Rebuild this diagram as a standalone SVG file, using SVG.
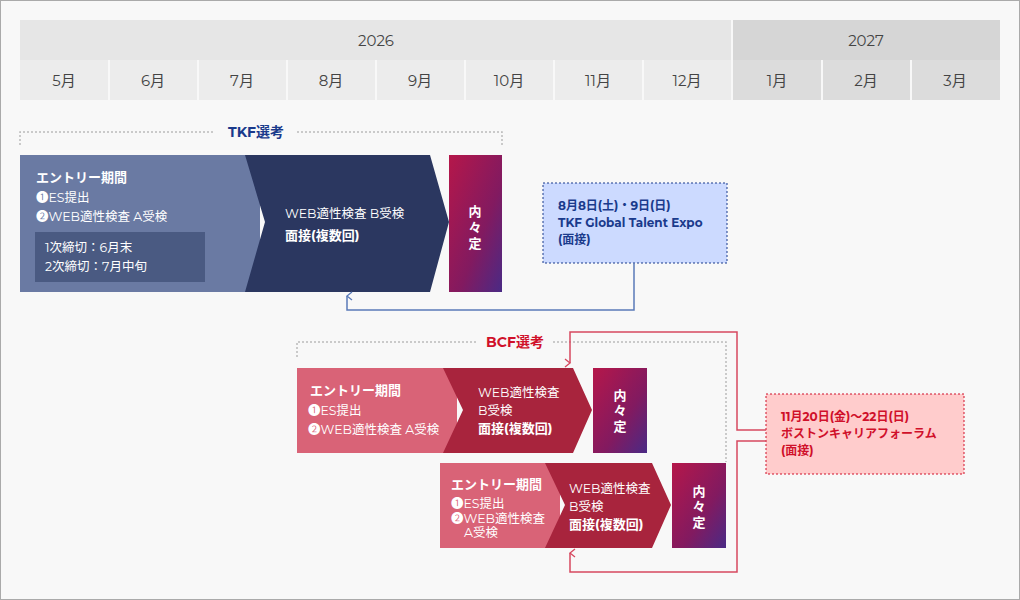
<svg xmlns="http://www.w3.org/2000/svg" width="1020" height="600" viewBox="0 0 1020 600">
<style>
text{font-family:Montserrat,"Noto Sans CJK JP",sans-serif}
.hd{font-size:15px;fill:#444;text-anchor:middle}
.w{fill:#fff;font-size:12.5px}
.wb{fill:#fff;font-size:13px;font-weight:bold}
.dot{fill:none;stroke:#bbb;stroke-width:1.5;stroke-dasharray:2 2}
</style>
<defs>
<linearGradient id="g" x1="0" y1="0" x2="1" y2="1">
<stop offset="0" stop-color="#b5174a"/><stop offset="0.6" stop-color="#821a60"/><stop offset="1" stop-color="#4a2a85"/>
</linearGradient>
<marker id="ab" markerWidth="10" markerHeight="10" refX="5" refY="1" orient="auto-start-reverse" markerUnits="userSpaceOnUse"><path d="M1,6 L5,1 L9,6" fill="none" stroke="#5a7ab8" stroke-width="1.3"/></marker>
<marker id="ar" markerWidth="10" markerHeight="10" refX="5" refY="1" orient="auto-start-reverse" markerUnits="userSpaceOnUse"><path d="M1,6 L5,1 L9,6" fill="none" stroke="#d6485f" stroke-width="1.3"/></marker>
</defs>
<rect x="0.5" y="0.5" width="1019" height="599" fill="#f8f8f8" stroke="#aaa"/>
<g id="header">
<rect x="20" y="20" width="712" height="40" fill="#e6e6e6"/>
<rect x="732" y="20" width="268" height="40" fill="#d6d6d6"/>
<rect x="20" y="60" width="712" height="40" fill="#ececec"/>
<rect x="732" y="60" width="268" height="40" fill="#dcdcdc"/>
<g stroke="#f8f8f8" stroke-width="2">
<line x1="109" y1="60" x2="109" y2="100"/><line x1="198" y1="60" x2="198" y2="100"/><line x1="287" y1="60" x2="287" y2="100"/><line x1="376" y1="60" x2="376" y2="100"/><line x1="465" y1="60" x2="465" y2="100"/><line x1="554" y1="60" x2="554" y2="100"/><line x1="643" y1="60" x2="643" y2="100"/><line x1="732" y1="20" x2="732" y2="100"/><line x1="822" y1="60" x2="822" y2="100"/><line x1="911" y1="60" x2="911" y2="100"/>
</g>
<text class="hd" x="376" y="46">2026</text><text class="hd" x="866" y="46">2027</text>
<text class="hd" x="64" y="86">5月</text><text class="hd" x="153" y="86">6月</text><text class="hd" x="242" y="86">7月</text><text class="hd" x="331" y="86">8月</text><text class="hd" x="420" y="86">9月</text><text class="hd" x="509" y="86">10月</text><text class="hd" x="598" y="86">11月</text><text class="hd" x="687" y="86">12月</text><text class="hd" x="777" y="86">1月</text><text class="hd" x="866" y="86">2月</text><text class="hd" x="955" y="86">3月</text>
</g>
<g id="tkf">
<path class="dot" d="M20,145 V132 H215 M297,132 H502 V145"/>
<text x="256" y="137" text-anchor="middle" font-size="14" font-weight="bold" fill="#1a3a8c">TKF選考</text>
<rect x="20" y="155" width="240" height="137" fill="#6a7aa3"/>
<polygon points="245,155 430,155 449,222 430,292 245,292 265,222" fill="#2b3760"/>
<text class="wb" x="36" y="182">エントリー期間</text>
<text class="w" x="36" y="202">❶ES提出</text>
<text class="w" x="36" y="221">❷WEB適性検査 A受検</text>
<rect x="35" y="232" width="170" height="50" fill="#4a5a82"/>
<text class="w" x="45" y="252">1次締切：6月末</text>
<text class="w" x="45" y="271">2次締切：7月中旬</text>
<text class="w" x="285" y="218">WEB適性検査 B受検</text>
<text class="wb" x="285" y="240">面接(複数回)</text>
<rect x="449" y="155" width="53" height="137" fill="url(#g)"/>
<text class="wb" x="475" y="216" text-anchor="middle">内</text><text class="wb" x="475" y="232" text-anchor="middle">々</text><text class="wb" x="475" y="248" text-anchor="middle">定</text>
</g>
<g id="tkf-event">
<rect x="543" y="183" width="184" height="80" fill="#ccdaff" stroke="#1a3a8c" stroke-dasharray="2 2"/>
<text x="558" y="210" font-size="12" font-weight="bold" fill="#1a3a8c">8月8日(土)・9日(日)</text>
<text x="558" y="227" font-size="12" font-weight="bold" fill="#1a3a8c">TKF Global Talent Expo</text>
<text x="558" y="244" font-size="12" font-weight="bold" fill="#1a3a8c">(面接)</text>
</g>
<g id="bcf">
<path class="dot" d="M297,357 V342 H478 M553,342 H726 V462"/>
<text x="515" y="347" text-anchor="middle" font-size="14" font-weight="bold" fill="#d0102a">BCF選考</text>
<rect x="297" y="368" width="160" height="85" fill="#d96377"/>
<polygon points="443,368 573,368 592,410 573,453 443,453 463,410" fill="#a8243d"/>
<text class="wb" x="310" y="395">エントリー期間</text>
<text class="w" x="308" y="415">❶ES提出</text>
<text class="w" x="308" y="434">❷WEB適性検査 A受検</text>
<text class="w" x="478" y="397">WEB適性検査</text>
<text class="w" x="478" y="415">B受検</text>
<text class="wb" x="478" y="433">面接(複数回)</text>
<rect x="593" y="368" width="54" height="85" fill="url(#g)"/>
<text class="wb" x="620" y="400" text-anchor="middle">内</text><text class="wb" x="620" y="415" text-anchor="middle">々</text><text class="wb" x="620" y="431" text-anchor="middle">定</text>
<rect x="440" y="463" width="120" height="85" fill="#d96377"/>
<polygon points="545,463 652,463 671,505 652,548 545,548 565,505" fill="#a8243d"/>
<text class="wb" x="451" y="489">エントリー期間</text>
<text class="w" x="451" y="508" font-size="12">❶ES提出</text>
<text class="w" x="451" y="523" font-size="12">❷WEB適性検査</text>
<text class="w" x="464" y="537" font-size="12">A受検</text>
<text class="w" x="569" y="493">WEB適性検査</text>
<text class="w" x="569" y="511">B受検</text>
<text class="wb" x="569" y="529">面接(複数回)</text>
<rect x="672" y="463" width="54" height="85" fill="url(#g)"/>
<text class="wb" x="699" y="496" text-anchor="middle">内</text><text class="wb" x="699" y="511" text-anchor="middle">々</text><text class="wb" x="699" y="527" text-anchor="middle">定</text>
</g>
<g id="bcf-event">
<rect x="766" y="394" width="198" height="80" fill="#ffcccc" stroke="#d0102a" stroke-dasharray="2 2"/>
<text x="781" y="421" font-size="12" font-weight="bold" fill="#d0102a">11月20日(金)〜22日(日)</text>
<text x="781" y="438" font-size="12" font-weight="bold" fill="#d0102a">ボストンキャリアフォーラム</text>
<text x="781" y="455" font-size="12" font-weight="bold" fill="#d0102a">(面接)</text>
</g>
<g id="connectors" fill="none" stroke-width="1.5">
<path d="M634,263 V310 H347 V296" stroke="#5a7ab8" marker-end="url(#ab)"/>
<path d="M766,430 H737 V332 H570 V363" stroke="#d6485f" marker-end="url(#ar)"/>
<path d="M766,441 H737 V572 H570 V553" stroke="#d6485f" marker-end="url(#ar)"/>
</g>
</svg>
